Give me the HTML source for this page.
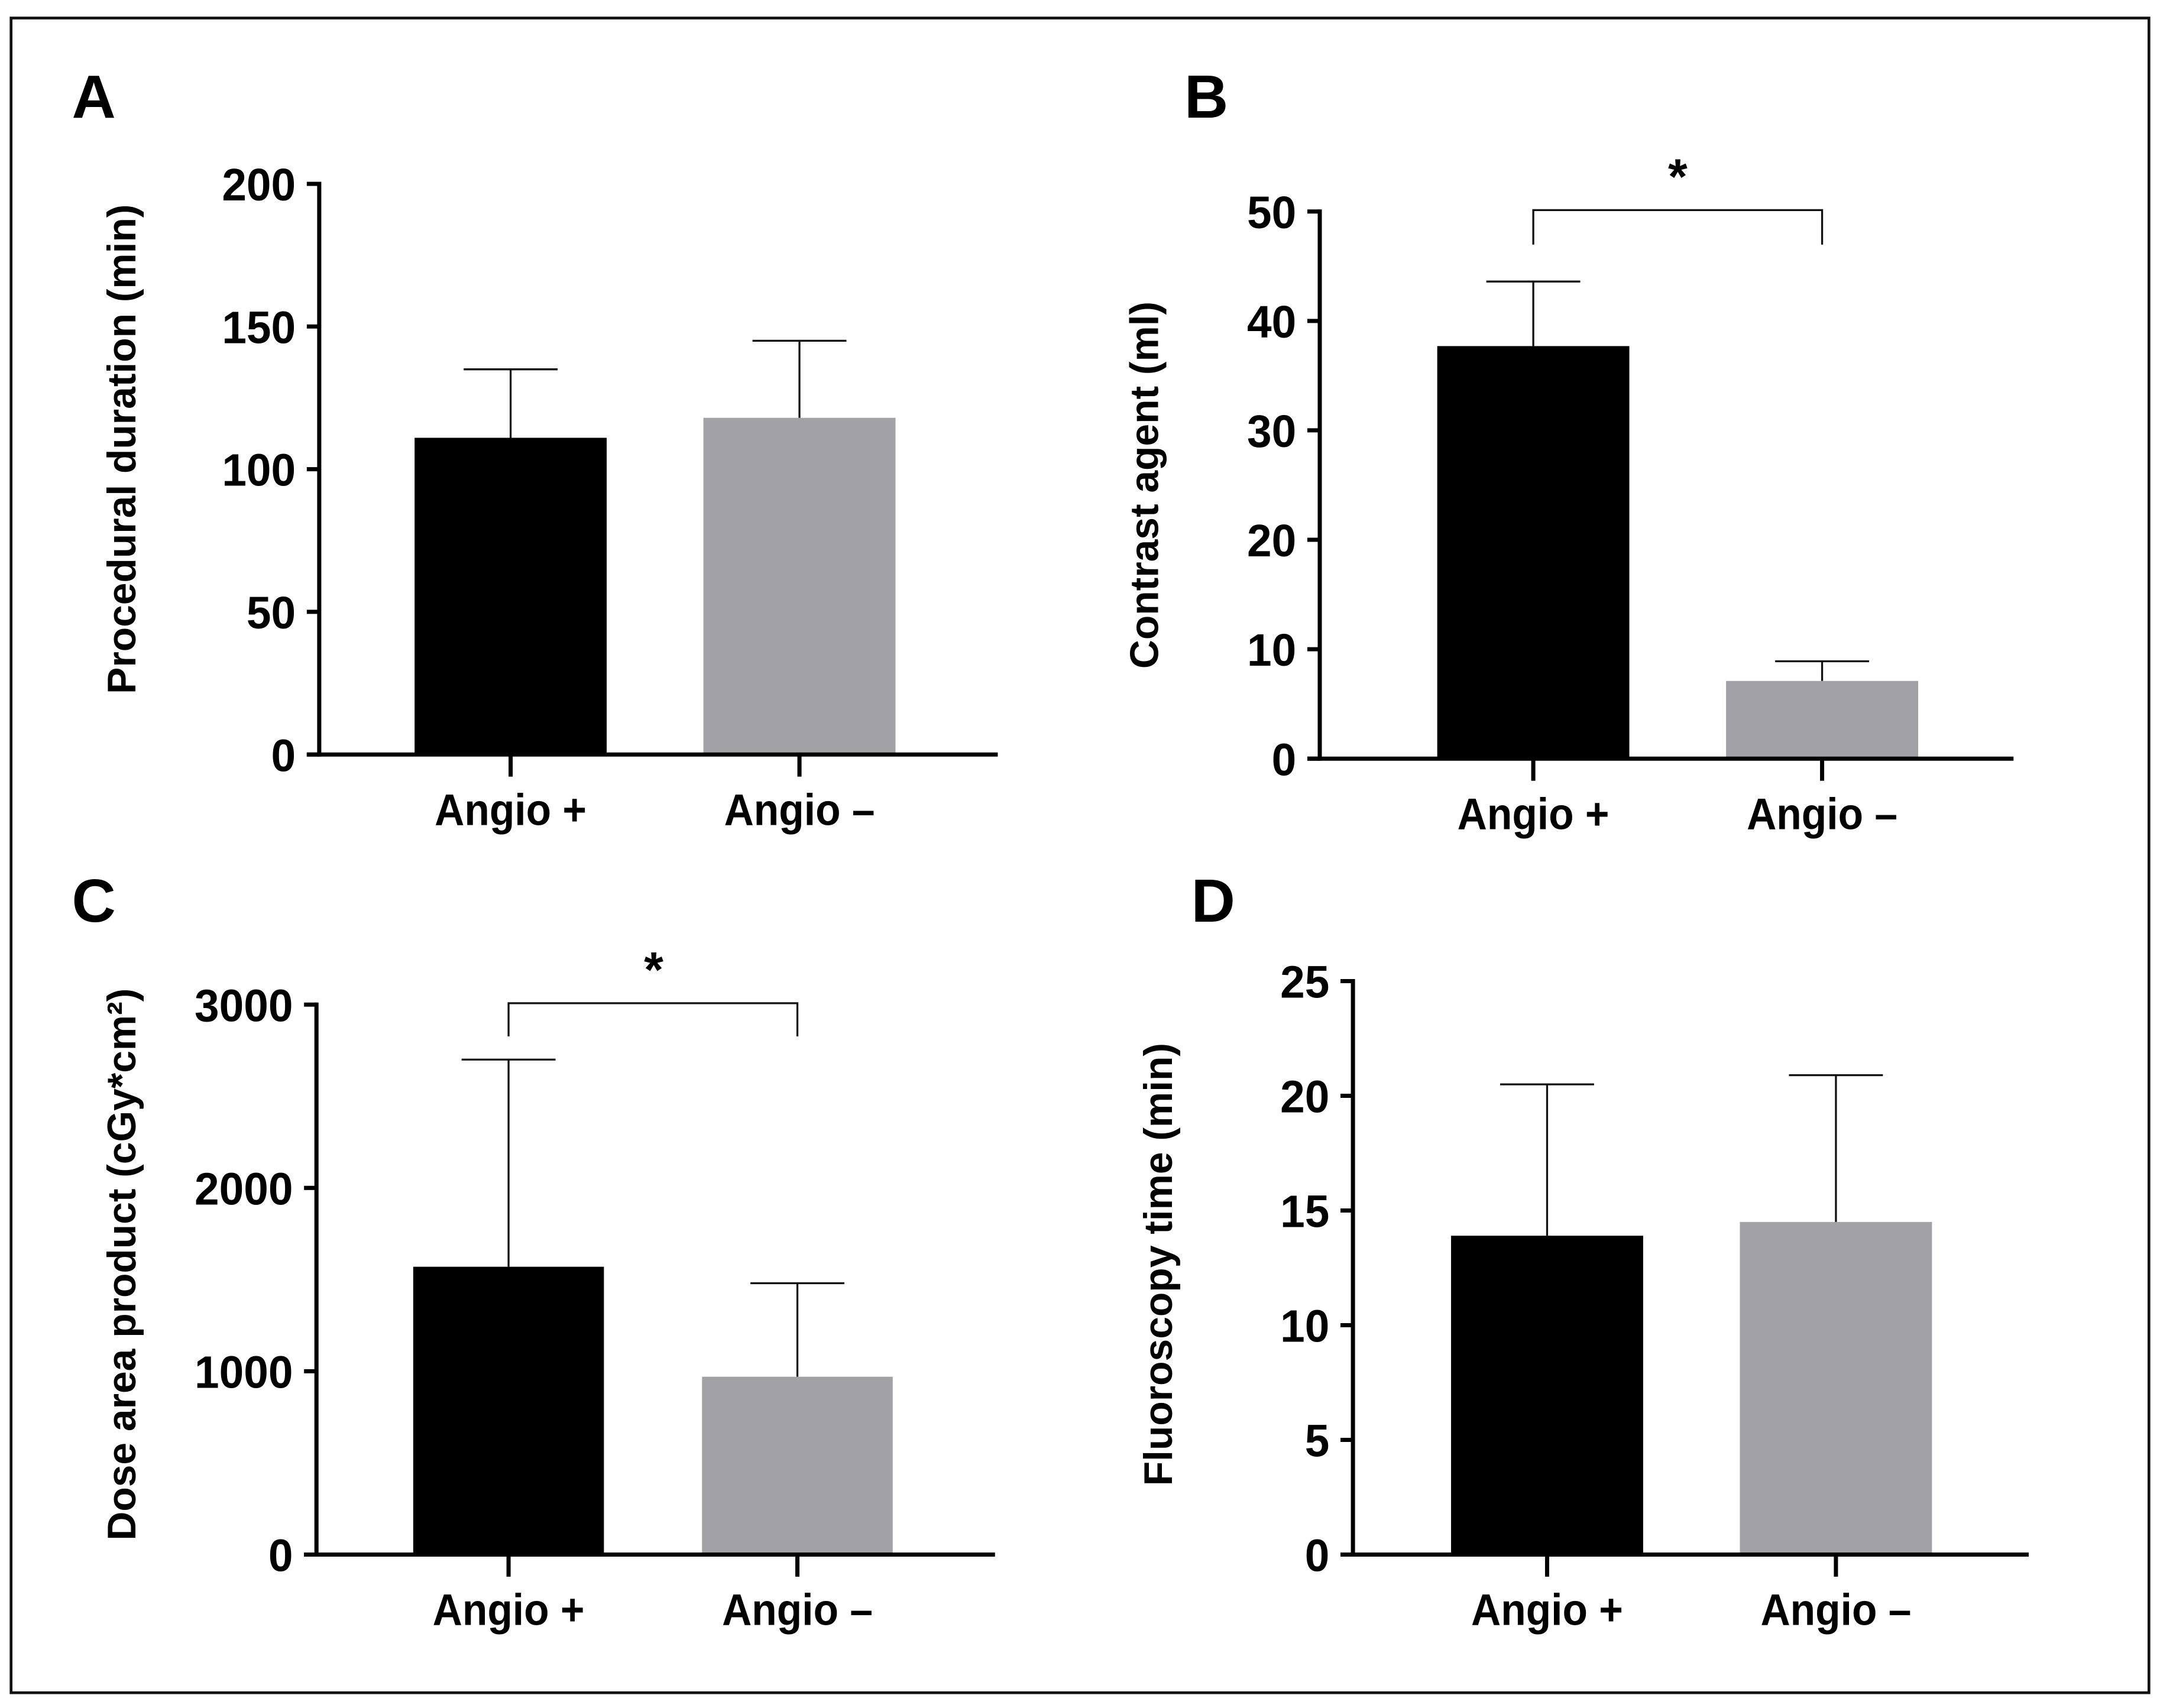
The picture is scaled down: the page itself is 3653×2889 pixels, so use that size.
<!DOCTYPE html>
<html><head><meta charset="utf-8"><style>
html,body{margin:0;padding:0;background:#fff}
svg{display:block}
.tk{font-family:"Liberation Sans",sans-serif;font-weight:bold;font-size:33px}
.cat{font-family:"Liberation Sans",sans-serif;font-weight:bold;font-size:32px}
.ttl{font-family:"Liberation Sans",sans-serif;font-weight:bold;font-size:29px}
.pl{font-family:"Liberation Sans",sans-serif;font-weight:bold;font-size:44px}
</style></head><body>
<svg id="fig" width="3653" height="2889" viewBox="0 0 1563 1236" xmlns="http://www.w3.org/2000/svg">
<rect x="8" y="13" width="1547" height="1212" fill="none" stroke="#111" stroke-width="2"/>
</svg>
<script>
const categories = ["Angio +", "Angio \u2013"];
const meansA = [111, 118];
const errA = [135, 145];
const ticksA = [0, 50, 100, 150, 200];
const meansB = [37.7, 7.1];
const errB = [43.6, 8.9];
const ticksB = [0, 10, 20, 30, 40, 50];
const meansC = [1570, 970];
const errC = [2700, 1480];
const ticksC = [0, 1000, 2000, 3000];
const meansD = [13.9, 14.5];
const errD = [20.5, 20.9];
const ticksD = [0, 5, 10, 15, 20, 25];
const titles = ["Procedural duration (min)", "Contrast agent (ml)", "Dose area product (cGy*cm\u00b2)", "Fluoroscopy time (min)"];

const NS = "http://www.w3.org/2000/svg";
const svg = document.getElementById("fig");
function mk(tag, attrs, parent) {
  const e = document.createElementNS(NS, tag);
  for (const k in attrs) e.setAttribute(k, attrs[k]);
  (parent || svg).appendChild(e);
  return e;
}
const colors = ["#000000", "#a2a1a6"];
const panels = [
  {id:"a", letter:"A", lx:52, ly:85, ax:231, y0:546, y1:133, xend:722, bars:[300,509], bw:139, means:meansA, err:errA, ticks:ticksA, tx:88, ty:325, title:titles[0], sig:null},
  {id:"b", letter:"B", lx:857, ly:85, ax:955, y0:549, y1:153, xend:1457, bars:[1040,1249], bw:139, means:meansB, err:errB, ticks:ticksB, tx:828, ty:351, title:titles[1], sig:{y:152, down:177, sx:1214, sy:140}},
  {id:"c", letter:"C", lx:52, ly:667, ax:229, y0:1125, y1:727, xend:720, bars:[299,508], bw:138, means:meansC, err:errC, ticks:ticksC, tx:88, ty:915, title:titles[2], sig:{y:726, down:750, sx:473, sy:714}},
  {id:"d", letter:"D", lx:862, ly:667, ax:979, y0:1125, y1:710, xend:1468, bars:[1050,1259], bw:139, means:meansD, err:errD, ticks:ticksD, tx:838, ty:915, title:titles[3], sig:null}
];
panels.forEach(p => {
  const g = mk("g", {});
  
  
  const maxT = p.ticks[p.ticks.length - 1];
  const yS = v => p.y0 - (v / maxT) * (p.y0 - p.y1);
  const lab = mk("text", {x:p.lx, y:p.ly, class:"pl"}, g);
  lab.textContent = p.letter;
  
  
  p.means.forEach((m, i) => {
    const x = p.bars[i], cx = x + p.bw / 2;
    const r = mk("rect", {x:x, y:yS(m), width:p.bw, height:p.y0 - yS(m), fill:colors[i]}, g);
    
    
    const eb = mk("path", {d:`M${cx},${yS(m)}V${yS(p.err[i])}M${cx-34},${yS(p.err[i])}H${cx+34}`, stroke:"#111", "stroke-width":1.4, fill:"none"}, g);
    
    
    const tk = mk("line", {x1:cx, x2:cx, y1:p.y0, y2:p.y0 + 16, stroke:"#000", "stroke-width":3}, g);
    
    
    const ct = mk("text", {x:0, y:0, "text-anchor":"middle", class:"cat", transform:`translate(${cx},${p.y0 + 51}) scale(0.93,1)`}, g);
    ct.textContent = categories[i];
    
    
  });
  const ya = mk("line", {x1:p.ax, x2:p.ax, y1:p.y1 - 1.5, y2:p.y0 + 1.5, stroke:"#000", "stroke-width":3}, g);
  
  
  const xa = mk("line", {x1:p.ax - 9, x2:p.xend, y1:p.y0, y2:p.y0, stroke:"#000", "stroke-width":3}, g);
  
  
  p.ticks.forEach(t => {
    const y = yS(t);
    const tl = mk("line", {x1:p.ax - 9, x2:p.ax, y1:y, y2:y, stroke:"#000", "stroke-width":3}, g);
    
    
    const tt = mk("text", {x:0, y:0, "text-anchor":"end", class:"tk", transform:`translate(${p.ax - 17},${y + 12}) scale(0.97,1)`}, g);
    tt.textContent = String(t);
    
    
  });
  const yt = mk("text", {x:0, y:0, "text-anchor":"middle", class:"ttl", transform:`translate(${p.tx},${p.ty}) rotate(-90)`, dy:"10"}, g);
  yt.textContent = p.title;
  
  
  if (p.sig) {
    const c0 = p.bars[0] + p.bw / 2, c1 = p.bars[1] + p.bw / 2;
    const br = mk("path", {d:`M${c0},${p.sig.down}V${p.sig.y}H${c1}V${p.sig.down}`, stroke:"#111", "stroke-width":1.4, fill:"none"}, g);
    
    
    const st = mk("text", {x:p.sig.sx, y:p.sig.sy, "text-anchor":"middle", class:"pl", style:"font-size:36px"}, g);
    st.textContent = "*";
    
    
  }
});
</script>
</body></html>
